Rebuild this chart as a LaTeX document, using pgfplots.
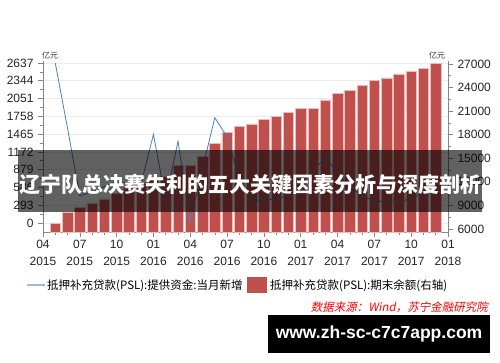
\documentclass[border=0pt]{standalone}
\usepackage{pgfplots}
\pgfplotsset{compat=1.18}
\usepackage{fontspec}
\setmainfont{Liberation Sans}
\newfontfamily\cjk{Noto Sans CJK SC}
\newfontfamily\cjkit{Noto Sans CJK SC}[FakeSlant=0.2]
\definecolor{barred}{RGB}{192,80,77}
\definecolor{baredge}{RGB}{235,190,188}
\definecolor{lineblue}{RGB}{79,129,189}
\definecolor{legblue}{RGB}{160,185,225}
\definecolor{axgray}{RGB}{134,134,134}
\definecolor{gridgray}{RGB}{236,236,236}
\pgfplotsset{
  base/.style={
    at={(43pt,130pt)}, anchor=south west, scale only axis,
    width=405pt, height=171pt, xmin=0, xmax=33,
    scaled ticks=false,
    tick align=outside, major tick length=5pt, minor tick length=3pt,
    tick style={axgray, line width=0.6pt},
    axis line style={axgray, line width=0.8pt, -},
    tick label style={font=\fontsize{12}{17}\selectfont, text=black!85},
    /pgf/number format/.cd, 1000 sep={}, fixed, assume math mode=true,
  }
}
\begin{document}
\begin{tikzpicture}[x=1pt,y=1pt]
\useasboundingbox (0,0) rectangle (500,362);
\fill[white] (0,0) rectangle (500,362);
% grid, left axis, bottom axis
\begin{axis}[base, ymin=-148, ymax=2670,
  axis x line*=bottom, axis y line*=left,
  xtick={0,3,...,33},
  xticklabels={{04\\2015},{07\\2015},{10\\2015},{01\\2016},{04\\2016},{07\\2016},{10\\2016},{01\\2017},{04\\2017},{07\\2017},{10\\2017},{01\\2018}},
  xticklabel style={align=center},
  minor xtick={1,2,4,5,7,8,10,11,13,14,16,17,19,20,22,23,25,26,28,29,31,32},
  ytick={0,293,586,879,1172,1465,1758,2051,2344,2637},
  minor ytick={146.5,439.5,732.5,1025.5,1318.5,1611.5,1904.5,2197.5,2490.5},
  ymajorgrids, major grid style={gridgray, line width=0.8pt},
  yticklabel style={xshift=-1pt},
]
\end{axis}
% bars, right axis
\begin{axis}[base, ymin=5618, ymax=27382,
  axis y line*=right, axis x line=none,
  ytick={6000,9000,12000,15000,18000,21000,24000,27000},
  minor ytick={7500,10500,13500,16500,19500,22500,25500},
  yticklabel style={xshift=1pt},
]
\addplot[ybar, bar width=10.5pt, fill=barred, draw=baredge, line width=0.5pt] coordinates {
(1,6700) (2,8125) (3,8710) (4,9220) (5,9820) (6,10500) (7,11150) (8,11800)
(9,12360) (10,12745) (11,14145) (12,14145) (13,15200) (14,16907) (15,18345) (16,19070)
(17,19364) (18,19960) (19,20340) (20,20800) (21,21360) (22,21360) (23,22420) (24,23270)
(25,23690) (26,24290) (27,24880) (28,25220) (29,25730) (30,26070) (31,26400) (32,27090)
};
\end{axis}
% line, left scale
\begin{axis}[base, ymin=-148, ymax=2670, hide axis]
\addplot[lineblue, line width=0.8pt] coordinates {
(1,2637) (2,1560) (3,450) (4,510) (5,600) (6,680) (7,650) (8,650)
(9,1459) (10,381) (11,1348) (12,20) (13,900) (14,1736) (15,1421) (16,725)
(17,350) (18,400) (19,381) (20,464) (21,700) (22,850) (23,1090) (24,824)
(25,600) (26,450) (27,360) (28,350) (29,350) (30,400) (31,500)
};
\end{axis}
% unit labels
\node[font=\cjk\fontsize{8}{9}\selectfont, text=black!80] at (50,307) {亿元};
\node[font=\cjk\fontsize{8}{9}\selectfont, text=black!80] at (437,307) {亿元};
% legend
\draw[legblue, line width=1.4pt] (27,77) -- (45,77);
\node[anchor=west, inner sep=0pt, font=\cjk\fontsize{11.5}{13}\selectfont] at (47,76) {抵押补充贷款(PSL):提供资金:当月新增};
\fill[barred] (247,69) rectangle (267,85);
\node[anchor=west, inner sep=0pt, font=\cjk\fontsize{11.5}{13}\selectfont] at (270,76) {抵押补充贷款(PSL):期末余额(右轴)};
% source
\node[anchor=east, inner sep=0pt, text=red, font=\cjkit\fontsize{11.5}{13}\selectfont] at (488,55) {数据来源：Wind，苏宁金融研究院};
% banner
\fill[black, opacity=0.62] (18,150) rectangle (482,212);
\node[text=white, font=\cjk\bfseries\fontsize{21}{24}\selectfont] at (250,177.5) {辽宁队总决赛失利的五大关键因素分析与深度剖析};
% watermark box
\fill[black] (268,9) rectangle (490,47);
\node[text=white, font=\bfseries\fontsize{17.5}{20}\selectfont] at (379,28) {www.zh-sc-c7c7app.com};
\end{tikzpicture}
\end{document}
